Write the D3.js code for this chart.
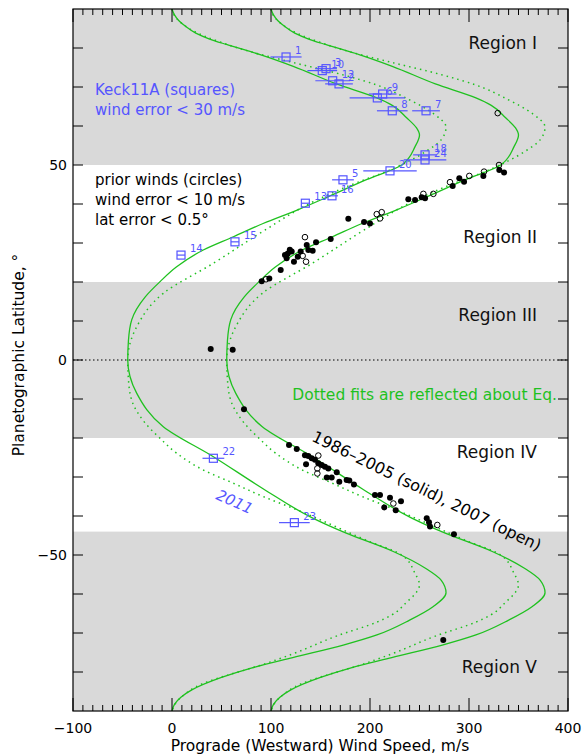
<!DOCTYPE html>
<html><head><meta charset="utf-8">
<script src="https://cdn.jsdelivr.net/npm/d3@7"></script>
<style>body{margin:0;background:#fff} svg text{font-family:"DejaVu Sans",sans-serif}</style>
</head><body><svg id="c" width="582" height="755"></svg>
<script>
// ---- data ----
const fitLat  = [90,88.5,87,85.5,83.8,82.3,80.9,78.3,75.3,70.8,67.2,65.3,62.1,59.5,57.7,54.7,50,46.3,41.9,38.5,35,31.6,28.2,23.9,20.1,16.2,10.3,5,0,
                 -8.5,-17.1,-24.8,-33,-40.6,-44.4,-49.1,-53.4,-56.5,-59.7,-63.2,-66.7,-70.5,-73.1,-76.3,-79,-81.4,-84.6,-86.5,-88.3,-90];
const fitWind = [0,2.5,7,14,24,38,55,89,122.5,166,207,222.5,237,247,250,245.5,232,197,158,127,92,62,31.6,4.7,-12,-27,-40.7,-44,-44.7,
                 -35.7,-8.8,41.8,92,142.7,176,223.5,256,272,276.8,264,240,207,173,122,80,50,20,9,2.5,0];
const fitOffsets = [0, 100];

const sqId   = ["1","10","3","12","2","6","9","8","7","18","24","20","5","16","13","14","15","22","23"];
const sqWind = [115.2,151.8,155.6,162.3,168.7,207.4,212.8,222.5,256.6,255.6,255.6,220.2,172.7,161.6,134.7,9.1,63.6,41.8,123.6];
const sqLat  = [77.7,74.2,74.7,71.6,70.8,67.2,68.2,63.9,63.9,52.6,51.3,48.5,46.2,42.1,40.2,26.9,30.3,-25.2,-41.7];
const sqErr  = [15.7,15,11,17.5,14,28,14,15.5,14,12,21.5,27,11,6,4,4,4,11,15.5];

const filledWind = [39.1,61.3,90.6,98.3,109.8,114.1,115.8,120.9,123.2,117,119,130,136.1,137.7,142.1,145.5,160.3,127,
  178.1,194,200,238.7,245.5,252.2,255.6,283.5,290.2,295,314.5,330.6,335.4,
  72.7,118.2,126,134.3,137.7,141.1,144.4,135.4,147.8,151.2,154.5,157.9,156.3,161.3,166.4,169,176.4,179.1,183.8,
  205,210.1,214.4,220.2,226,231.3,257.3,259.6,260.6,284.8,274];
const filledLat  = [2.8,2.6,20.2,20.9,23.1,26.9,26.1,27.8,25.2,27.3,28.3,27.8,29.5,28.2,28.0,30.2,31.0,26.5,
  36.2,35.4,35.0,41.2,41.0,41.7,41.5,44.6,46.6,45.7,47.2,48.7,48.1,
  -12.6,-21.8,-22.8,-24.4,-24.6,-25.2,-25.6,-26.7,-26.5,-26.9,-27.4,-27.8,-30.1,-30.1,-28.8,-31.2,-30.8,-30.9,-31.9,
  -34.6,-34.6,-37.8,-35.3,-38.5,-36.2,-40.6,-41.6,-42.7,-44.7,-71.8];
const openWind = [95,134.3,132,135.4,206.8,211.8,210.1,253.9,264,280.8,300.3,315.2,330.3,329,147.8,146.8,146.8,223.6,268];
const openLat  = [20.7,31.5,26.7,25.2,37.4,37.9,36.3,42.6,42.6,45.6,47.2,48.3,50,63.3,-24.5,-27.8,-29.1,-36.8,-42.3];

const grayBands   = [[50,90],[-20,20],[-90,-44]];
const regionNames = ["Region I","Region II","Region III","Region IV","Region V"];
const xTicks = [-100,0,100,200,300,400];
const yTicks = [-50,0,50];

// ---- layout ----
const L=73,R=568,T=9,B=711;
const x = d3.scaleLinear().domain([-100,400]).range([L,R]);
const y = d3.scaleLinear().domain([-90,90]).range([B,T]);
const svg = d3.select("#c");
const GREEN="#1fc11f", BLUE="#5555ff", GRAY="#d9d9d9";

svg.append("defs").append("clipPath").attr("id","clip").append("rect")
  .attr("x",L).attr("y",T).attr("width",R-L).attr("height",B-T);

// bands
svg.selectAll("rect.band").data(grayBands).enter().append("rect")
  .attr("x",L).attr("width",R-L)
  .attr("y",d=>y(d[1])).attr("height",d=>y(d[0])-y(d[1])).attr("fill",GRAY);

// equator
svg.append("line").attr("x1",L).attr("x2",R).attr("y1",y(0)).attr("y2",y(0))
  .attr("stroke","#000").attr("stroke-width",1.2).attr("stroke-dasharray","1.5,2.5");

// fits
const g = svg.append("g").attr("clip-path","url(#clip)");
const line = d3.line().x(d=>x(d[0])).y(d=>y(d[1])).curve(d3.curveMonotoneY);
fitOffsets.forEach(off=>{
  const solid = fitLat.map((la,i)=>[fitWind[i]+off, la]);
  const dotted = fitLat.map((la,i)=>[fitWind[i]+off, -la]).reverse();
  g.append("path").attr("d",line(solid)).attr("fill","none").attr("stroke",GREEN).attr("stroke-width",1.3);
  g.append("path").attr("d",line(dotted)).attr("fill","none").attr("stroke",GREEN).attr("stroke-width",1.5)
    .attr("stroke-dasharray","1.5,4");
});

// squares
sqId.forEach((id,i)=>{
  const cx=x(sqWind[i]), cy=y(sqLat[i]);
  g.append("line").attr("x1",x(sqWind[i]-sqErr[i])).attr("x2",x(sqWind[i]+sqErr[i]))
    .attr("y1",cy).attr("y2",cy).attr("stroke",BLUE).attr("stroke-width",1.2);
  g.append("rect").attr("x",cx-4).attr("y",cy-4).attr("width",8).attr("height",8)
    .attr("fill","none").attr("stroke",BLUE).attr("stroke-width",1.2);
  svg.append("text").attr("x",cx+9).attr("y",cy-3).attr("font-size",10).attr("fill",BLUE).text(id);
});

// dots
g.selectAll("circle.f").data(filledWind).enter().append("circle")
  .attr("cx",(d)=>x(d)).attr("cy",(d,i)=>y(filledLat[i])).attr("r",3).attr("fill","#000");
g.selectAll("circle.o").data(openWind).enter().append("circle")
  .attr("cx",(d)=>x(d)).attr("cy",(d,i)=>y(openLat[i])).attr("r",2.8).attr("fill","none")
  .attr("stroke","#000").attr("stroke-width",1);

// frame & ticks
svg.append("rect").attr("x",L).attr("y",T).attr("width",R-L).attr("height",B-T)
  .attr("fill","none").attr("stroke","#000").attr("stroke-width",1.2);
const tk = svg.append("g").attr("stroke","#000").attr("stroke-width",1);
d3.range(-100,401,10).forEach(v=>{
  const len = (v%100===0)?13:6;
  tk.append("line").attr("x1",x(v)).attr("x2",x(v)).attr("y1",B).attr("y2",B-len);
  tk.append("line").attr("x1",x(v)).attr("x2",x(v)).attr("y1",T).attr("y2",T+len);
});
d3.range(-80,81,10).forEach(v=>{
  const len = 10;
  tk.append("line").attr("x1",L).attr("x2",L+len).attr("y1",y(v)).attr("y2",y(v));
  tk.append("line").attr("x1",R).attr("x2",R-len).attr("y1",y(v)).attr("y2",y(v));
});
xTicks.forEach(v=>svg.append("text").attr("x",x(v)).attr("y",733).attr("text-anchor","middle")
  .attr("font-size",14).text(v<0?"\u2212"+Math.abs(v):v));
yTicks.forEach(v=>svg.append("text").attr("x",67).attr("y",y(v)+5).attr("text-anchor","end")
  .attr("font-size",14).text(v<0?"\u2212"+Math.abs(v):v));

svg.append("text").attr("x",320).attr("y",751).attr("text-anchor","middle").attr("font-size",15.5)
  .text("Prograde (Westward) Wind Speed, m/s");
svg.append("text").attr("transform","translate(24,355) rotate(-90)").attr("text-anchor","middle")
  .attr("font-size",15.5).text("Planetographic Latitude, \u00b0");

// region labels
const regBase = [49,243.3,320.7,458.3,672.7];
regionNames.forEach((n,i)=>svg.append("text").attr("x",537).attr("y",regBase[i])
  .attr("text-anchor","end").attr("font-size",17).attr("fill","#111").text(n));

// annotations
svg.append("text").attr("x",95).attr("y",95).attr("font-size",15).attr("fill",BLUE).text("Keck11A (squares)");
svg.append("text").attr("x",95).attr("y",115).attr("font-size",15).attr("fill",BLUE).text("wind error < 30 m/s");
svg.append("text").attr("x",95).attr("y",185).attr("font-size",15).text("prior winds (circles)");
svg.append("text").attr("x",95).attr("y",205).attr("font-size",15).text("wind error < 10 m/s");
svg.append("text").attr("x",95).attr("y",224.5).attr("font-size",15).text("lat error < 0.5\u00b0");
svg.append("text").attr("x",557).attr("y",400).attr("text-anchor","end").attr("font-size",15.5).attr("fill",GREEN)
  .text("Dotted fits are reflected about Eq.");
svg.append("text").attr("transform","translate(426.7,490.8) rotate(26)").attr("text-anchor","middle")
  .attr("dy","0.35em").attr("font-size",16).text("1986\u20132005 (solid), 2007 (open)");
svg.append("text").attr("transform","translate(234.7,501.7) rotate(24)").attr("text-anchor","middle")
  .attr("dy","0.35em").attr("font-size",15).attr("font-style","italic").attr("fill",BLUE).text("2011");
</script></body></html>
